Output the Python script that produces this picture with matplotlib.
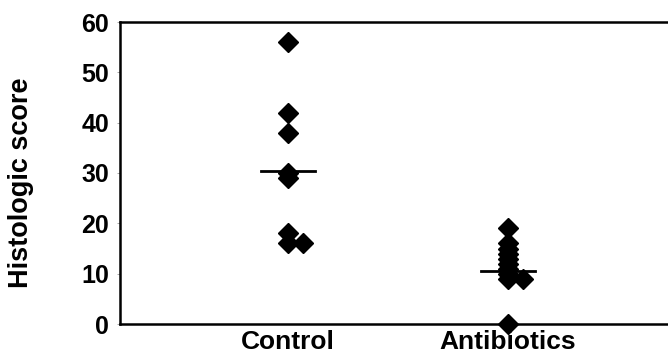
import numpy as np
import matplotlib
matplotlib.use("Agg")
import matplotlib.pyplot as plt

plt.rcParams['font.family'] = ['Liberation Sans', 'DejaVu Sans']

groups = ['Control', 'Antibiotics']
control = [56, 42, 38, 30, 29, 18, 16, 16]
control_dx = [0, 0, 0, 0, 0, 0, 0, 0.07]
antibiotics = [19, 16, 15, 14, 13, 12, 11, 10, 9, 9, 0]
antibiotics_dx = [0, 0, 0, 0, 0, 0, 0, 0, 0, 0.07, 0]
medians = [30.3, 10.5]

fig = plt.figure(figsize=(6.68, 3.58), dpi=100)
ax = fig.add_axes([120/668, 34/358, 561/668, 302/358])

for i, (vals, dx) in enumerate([(control, control_dx), (antibiotics, antibiotics_dx)]):
    xs = np.full(len(vals), i + 1.0) + np.array(dx)
    ax.plot(xs, vals, 'D', color='black', markersize=10.5, clip_on=False, zorder=3)
    ax.plot([i + 1 - 0.123, i + 1 + 0.123], [medians[i], medians[i]],
            color='black', lw=2, zorder=4)

ax.set_xlim(0.236, 2.786)
ax.set_ylim(0, 60)
ax.set_yticks([0, 10, 20, 30, 40, 50, 60])
ax.set_xticks([1, 2])
ax.set_xticklabels(groups, fontsize=19, fontweight='bold')
ax.tick_params(axis='y', labelsize=18, length=2, width=0.6, color='#999999', pad=6)
ax.tick_params(axis='x', length=0, pad=4)
for lab in ax.get_yticklabels():
    lab.set_fontweight('bold')
ax.set_ylabel('Histologic score', fontsize=19.5, fontweight='bold')
ax.yaxis.set_label_coords(-0.153, 0.467)
for s in ax.spines.values():
    s.set_linewidth(1.8)
    s.set_color('black')

fig.savefig('out.png', dpi=100)
